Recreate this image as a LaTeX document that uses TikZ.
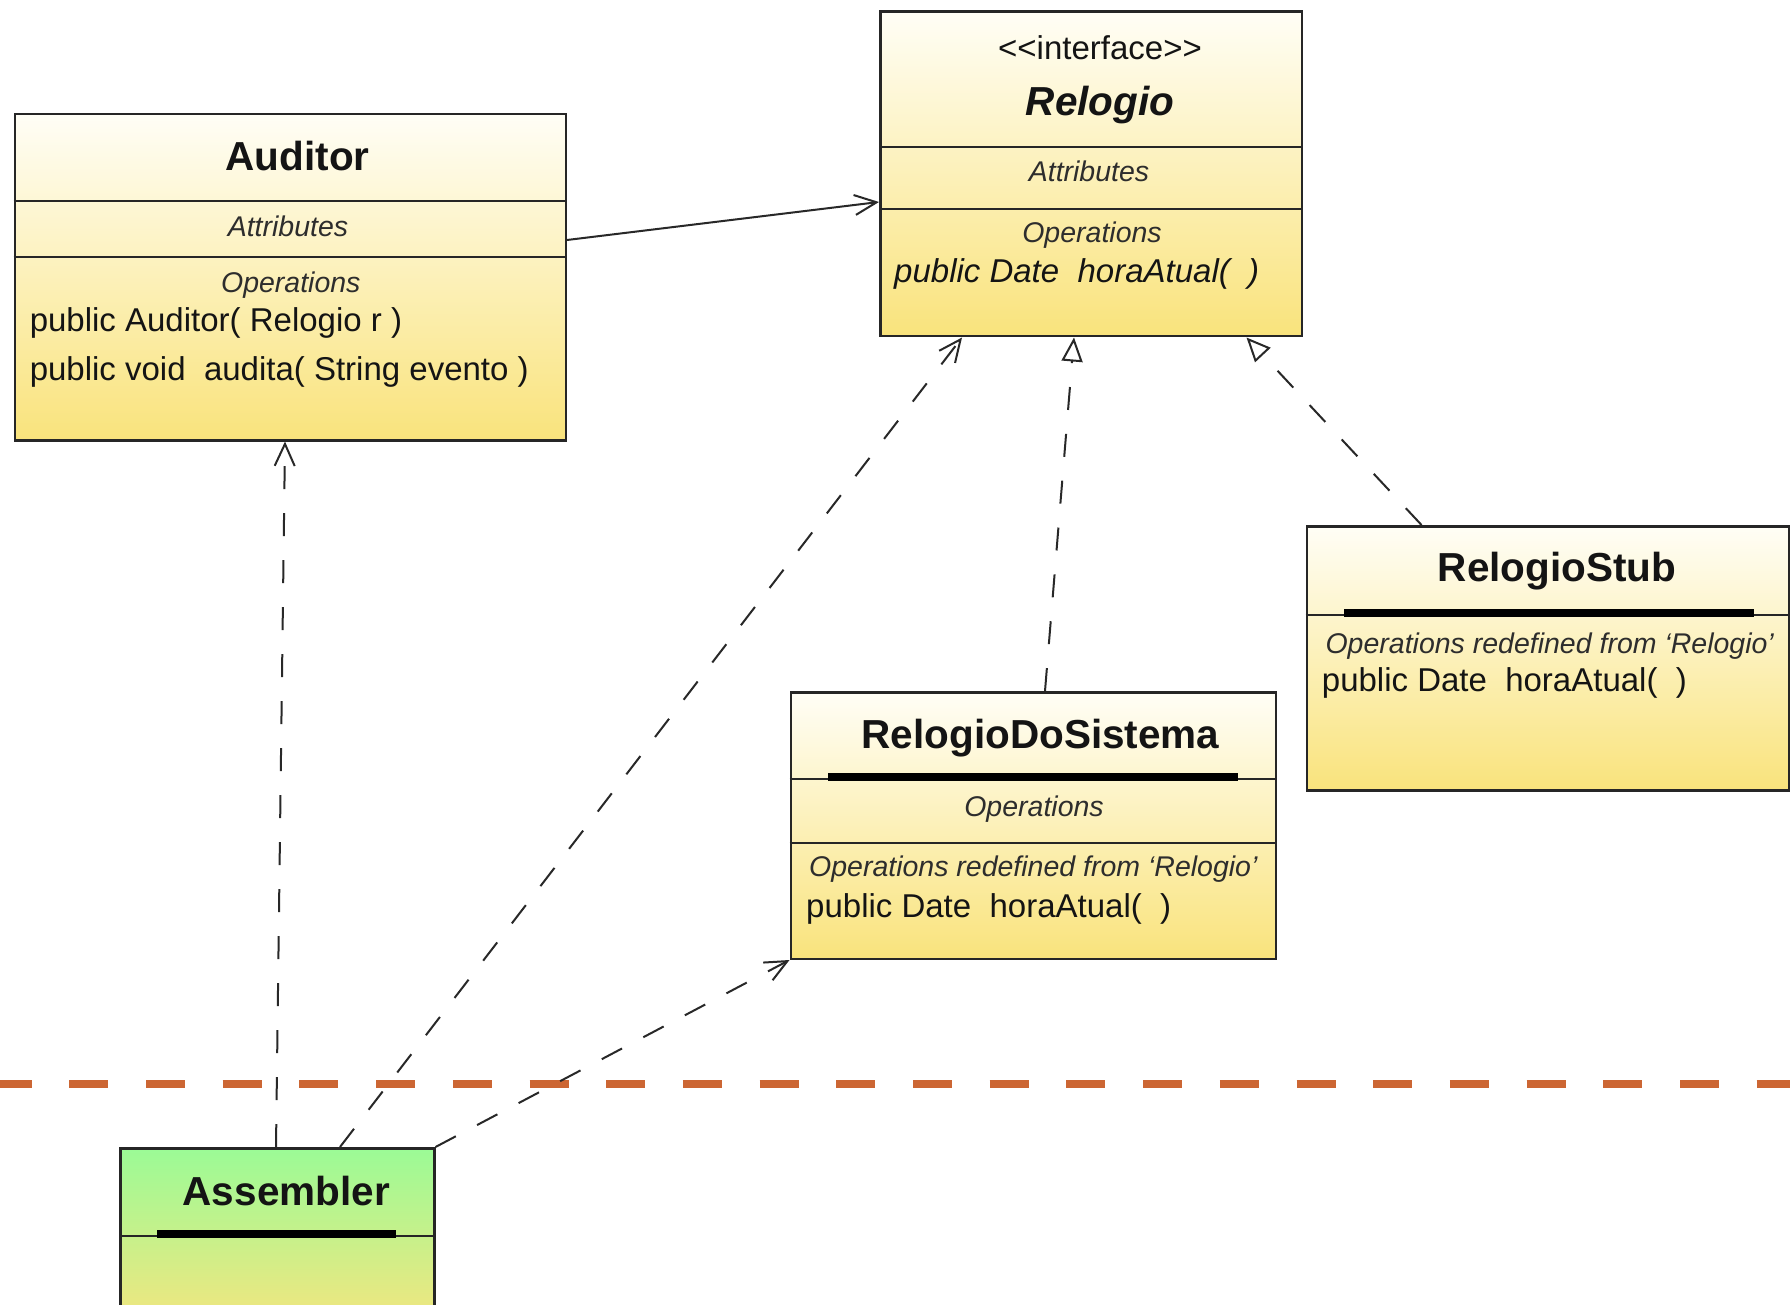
\documentclass[tikz,border=0pt]{standalone}
\usepackage{fontspec}
\setmainfont{Liberation Sans}
\usetikzlibrary{arrows.meta,calc}

\definecolor{boxtop}{RGB}{255,254,246}
\definecolor{boxbot}{RGB}{249,227,124}
\definecolor{asmtop}{RGB}{155,251,150}
\definecolor{asmbot}{RGB}{250,228,125}
\definecolor{ink}{RGB}{20,20,20}
\definecolor{labelink}{RGB}{45,45,45}
\definecolor{wire}{RGB}{40,40,40}
\definecolor{layerline}{RGB}{204,102,51}

\newcommand\ftitle{\fontsize{40.5}{48}\selectfont\bfseries}
\newcommand\fbody{\fontsize{33}{40}\selectfont}
\newcommand\flabel{\fontsize{28.5}{34}\selectfont\itshape}

\begin{document}
\begin{tikzpicture}[x=1pt,y=-1pt,
  classbox/.style={draw=black!85, line width=2.5pt, rectangle, anchor=north west,
    inner sep=0pt, top color=boxtop, bottom color=boxbot},
  asmbox/.style={classbox, top color=asmtop, bottom color=asmbot},
  sepline/.style={draw=black!85, line width=2pt},
  bar/.style={fill=black},
  title/.style={anchor=base, inner sep=0pt, text=ink, font=\ftitle},
  member/.style={anchor=base west, inner sep=0pt, text=ink, font=\fbody},
  stereo/.style={anchor=base, inner sep=0pt, text=ink, font=\fbody},
  compartment/.style={anchor=base, inner sep=0pt, text=labelink, font=\flabel},
  assoc/.style={draw=wire, line width=2pt, -{Straight Barb[length=22pt,width=20pt]}},
  depend/.style={assoc, dash pattern=on 23pt off 24pt},
  realize/.style={draw=wire, line width=2pt, dash pattern=on 23pt off 24pt,
    -{Triangle[length=24pt,width=21pt,fill=white]}},
  layer/.style={draw=layerline, line width=7.7pt, dash pattern=on 39pt off 37.7pt, dash phase=7.4pt}
]
\useasboundingbox (0,0) rectangle (1790,1305);
\clip (0,0) rectangle (1790,1305);
\fill[white] (0,0) rectangle (1790,1305);

% layer boundary
\coordinate (layerL) at (0,1084);
\coordinate (layerR) at (1790,1084);
\draw[layer] (layerL) -- (layerR);

% ---- Auditor ----
\node[classbox, minimum width=551pt, minimum height=326pt] (aud) at (13.5,113) {};
\draw[sepline] ($(aud.north west)+(0,88)$) -- ($(aud.north east)+(0,88)$);
\draw[sepline] ($(aud.north west)+(0,144)$) -- ($(aud.north east)+(0,144)$);
\node[title] (audName) at (297.7,170.7) {Auditor};
\node[compartment] (audAttr) at (288,236.7) {Attributes};
\node[compartment] (audOps) at (290.8,292.7) {Operations};
\node[member] (audOp1) at (29.6,331) {public Auditor( Relogio r )};
\node[member] (audOp2) at (29.6,380) {public void\ \ audita( String evento )};

% ---- Relogio (interface) ----
\node[classbox, minimum width=421.5pt, minimum height=324.5pt] (rel) at (879,10.5) {};
\draw[sepline] ($(rel.north west)+(0,137)$) -- ($(rel.north east)+(0,137)$);
\draw[sepline] ($(rel.north west)+(0,198.5)$) -- ($(rel.north east)+(0,198.5)$);
\node[stereo] (relStereo) at (1100,60) {\textless\kern0pt\textless interface\textgreater\kern0pt\textgreater};
\node[title, font=\ftitle\itshape] (relName) at (1100,116) {Relogio};
\node[compartment] (relAttr) at (1089,181.7) {Attributes};
\node[compartment] (relOps) at (1092,242.7) {Operations};
\node[member, font=\fbody\itshape] (relOp1) at (894,282.7) {public Date\ \ horaAtual(\ \ )};

% ---- RelogioStub ----
\node[classbox, minimum width=482.5pt, minimum height=264pt] (stub) at (1305.5,525) {};
\draw[sepline] ($(stub.north west)+(0,90)$) -- ($(stub.north east)+(0,90)$);
\fill[bar] ($(stub.north west)+(38,84)$) rectangle ($(stub.north east)+(-37,91.5)$);
\node[title] (stubName) at (1557,581.7) {RelogioStub};
\node[compartment] (stubOps) at (1549.7,653) {Operations redefined from ‘Relogio’};
\node[member] (stubOp1) at (1321.7,691.7) {public Date\ \ horaAtual(\ \ )};

% ---- RelogioDoSistema ----
\node[classbox, minimum width=485pt, minimum height=266.5pt] (rds) at (789.5,691) {};
\draw[sepline] ($(rds.north west)+(0,88)$) -- ($(rds.north east)+(0,88)$);
\draw[sepline] ($(rds.north west)+(0,152)$) -- ($(rds.north east)+(0,152)$);
\fill[bar] ($(rds.north west)+(38,82)$) rectangle ($(rds.north east)+(-39,89.5)$);
\node[title] (rdsName) at (1040.5,748) {RelogioDoSistema};
\node[compartment] (rdsOps) at (1034,816.7) {Operations};
\node[compartment] (rdsRedef) at (1033.3,876.7) {Operations redefined from ‘Relogio’};
\node[member] (rdsOp1) at (806,917) {public Date\ \ horaAtual(\ \ )};

% ---- Assembler ----
\node[asmbox, minimum width=314pt, minimum height=190pt] (asm) at (119,1147) {};
\draw[sepline] ($(asm.north west)+(0,89)$) -- ($(asm.north east)+(0,89)$);
\fill[bar] ($(asm.north west)+(38,83)$) rectangle ($(asm.north east)+(-40,90.5)$);
\node[title] (asmName) at (286.3,1205) {Assembler};

% ---- relationships ----
\draw[assoc] ($(aud.north east)+(0,127)$) -- ($(rel.north west)+(0,191.5)$);
\draw[depend] ($(asm.north west)+(157,0)$) -- ($(aud.south west)+(271.5,0)$);
\draw[depend] ($(asm.north west)+(221,0)$) -- ($(rel.south west)+(83,0)$);
\draw[depend] (asm.north east) -- (rds.south west);
\draw[realize] ($(rds.north west)+(255.5,0)$) -- ($(rel.south west)+(195,0)$);
\draw[realize] ($(stub.north west)+(116,0)$) -- ($(rel.south west)+(367.5,0)$);
\end{tikzpicture}
\end{document}
